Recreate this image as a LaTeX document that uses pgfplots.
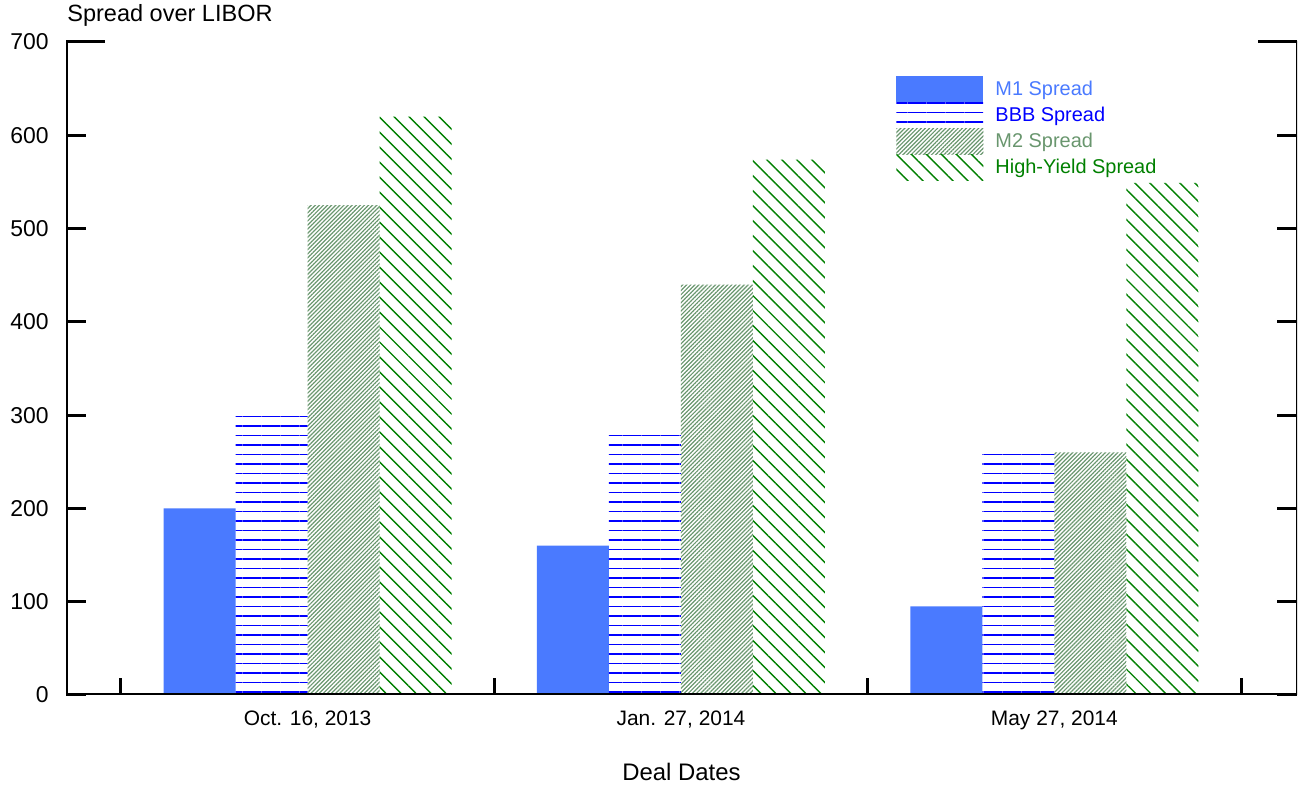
\documentclass[border=0pt]{standalone}
\usepackage{fontspec}
\setmainfont{Liberation Sans}
\usepackage{pgfplots}
\pgfplotsset{compat=1.18}
\usetikzlibrary{patterns.meta}

\definecolor{m1}{RGB}{74,122,255}
\definecolor{bbb}{RGB}{0,0,255}
\definecolor{m2}{RGB}{105,150,110}
\definecolor{hy}{RGB}{0,128,0}

\begin{document}
\begin{tikzpicture}
\begin{axis}[
    name=ax,
    scale only axis,
    width=615.5bp, height=326.5bp,
    ybar=0pt, bar width=36bp,
    xmin=-0.647, xmax=2.65,
    ymin=0, ymax=700,
    axis line style={draw=none},
    tick align=inside,
    every tick/.style={black, line width=1.5bp},
    xtick={0,1,2},
    xticklabels={{Oct. 16, 2013},{Jan. 27, 2014},{May 27, 2014}},
    major x tick style={draw=none},
    minor xtick={-0.5,0.5,1.5,2.5},
    minor tick length=8.5bp,
    xtick pos=left,
    ytick={0,100,...,600},
    major tick length=10bp,
    extra y ticks={700},
    extra tick style={major tick length=19.5bp},
    /pgf/number format/assume math mode=true,
    yticklabel style={inner sep=0pt, xshift=-8.5bp, font=\fontsize{11.5}{13}\selectfont},
    xticklabel style={inner sep=0pt, anchor=base, yshift=-15.5bp, font=\fontsize{10.5}{12}\selectfont},
    xlabel={Deal Dates},
    xlabel style={at={(axis description cs:0.5,0)}, anchor=base, inner sep=0pt,
        yshift=-43bp, font=\fontsize{12}{14}\selectfont},
    legend image code/.code={\path[#1,draw=none] (0bp,-6.5bp) rectangle (43.5bp,6.5bp);},
    legend style={at={(axis description cs:0.6743,0.948)}, anchor=north west,
        draw=none, fill=none, inner sep=0pt, row sep=0pt,
        nodes={inner sep=0pt, font=\fontsize{10}{12}\selectfont},
        /tikz/every odd column/.append style={column sep=6bp}},
    legend cell align=left,
]
\addplot[fill=m1, draw=none] coordinates {(0,200) (1,160) (2,95)};
\addplot[draw=none, pattern={Lines[angle=0, distance=4.75bp, line width=0.65bp]}, pattern color=bbb]
    coordinates {(0,304) (1,284) (2,263)};
\addplot[draw=none, pattern={Lines[angle=45, distance=1.45bp, line width=0.6bp]}, pattern color=m2]
    coordinates {(0,525) (1,440) (2,260)};
\addplot[draw=none, pattern={Lines[angle=-45, distance=5.3bp, line width=0.7bp]}, pattern color=hy]
    coordinates {(0,620) (1,574) (2,549)};
\legend{\textcolor{m1}{M1 Spread}, \textcolor{bbb}{BBB Spread},
        \textcolor{m2}{M2 Spread}, \textcolor{hy}{High-Yield Spread}}
\draw[line width=1.5bp, line cap=rect] (rel axis cs:0,1) -- (rel axis cs:0,0) -- (rel axis cs:1,0) -- (rel axis cs:1,1);
\end{axis}
\node[anchor=base west, inner sep=0pt, font=\fontsize{11.8}{13}\selectfont]
    at ([shift={(0.5bp,10bp)}]ax.north west) {Spread over LIBOR};
\pgfresetboundingbox
\path ([shift={(-33bp,-46bp)}]ax.south west) rectangle ([shift={(2bp,21bp)}]ax.north east);
\end{tikzpicture}
\end{document}
